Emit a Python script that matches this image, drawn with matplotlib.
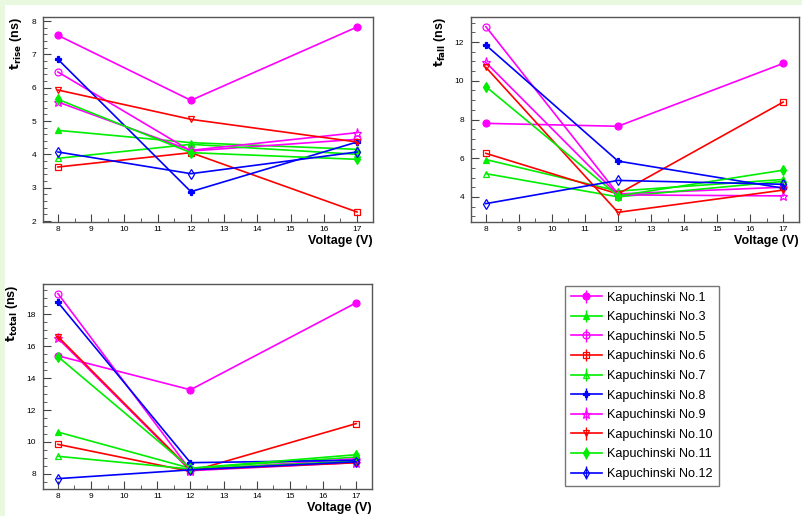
import matplotlib
matplotlib.use('Agg')
import matplotlib.pyplot as plt
from matplotlib.patches import Rectangle
from matplotlib.ticker import MultipleLocator

plt.rcParams['font.family'] = ['Liberation Sans', 'DejaVu Sans']

voltage = [8, 12, 17]

names = ['Kapuchinski No.1', 'Kapuchinski No.3', 'Kapuchinski No.5', 'Kapuchinski No.6',
         'Kapuchinski No.7', 'Kapuchinski No.8', 'Kapuchinski No.9', 'Kapuchinski No.10',
         'Kapuchinski No.11', 'Kapuchinski No.12']

t_rise = [
    [7.57, 5.62, 7.82],
    [4.72, 4.35, 4.15],
    [6.47, 4.10, 4.45],
    [3.62, 4.05, 2.27],
    [3.88, 4.30, 4.00],
    [6.85, 2.88, 4.37],
    [5.57, 4.12, 4.65],
    [5.93, 5.05, 4.37],
    [5.65, 4.05, 3.85],
    [4.07, 3.42, 4.07],
]

t_fall = [
    [7.80, 7.65, 10.90],
    [5.93, 4.30, 4.90],
    [12.80, 4.15, 4.50],
    [6.25, 4.15, 8.90],
    [5.20, 4.00, 4.80],
    [11.85, 5.85, 4.45],
    [10.95, 4.10, 4.05],
    [10.70, 3.20, 4.35],
    [9.70, 4.05, 5.38],
    [3.65, 4.85, 4.65],
]

t_total = [
    [15.40, 13.27, 18.72],
    [10.62, 8.35, 9.05],
    [19.30, 8.22, 8.95],
    [9.85, 8.15, 11.15],
    [9.10, 8.30, 8.80],
    [18.75, 8.70, 8.85],
    [16.50, 8.20, 8.70],
    [16.60, 8.25, 8.70],
    [15.35, 8.35, 9.20],
    [7.70, 8.25, 8.75],
]

# colour, marker, filled
styles = [
    ('#ff00ff', 'o', True),
    ('#00ee00', '^', True),
    ('#ff00ff', 'o', False),
    ('#ff0000', 's', False),
    ('#00ee00', '^', False),
    ('#0000ff', 'P', True),
    ('#ff00ff', '*', False),
    ('#ff0000', 'v', False),
    ('#00ee00', 'd', True),
    ('#0000ff', 'd', False),
]

W, H = 802, 516
fig = plt.figure(figsize=(W / 100, H / 100), dpi=100)
fig.patch.set_facecolor('#e9f9df')
fig.add_artist(Rectangle((5 / W, 0), 1, 1 - 5 / H, transform=fig.transFigure,
                         facecolor='white', edgecolor='none', zorder=-10))


def add_ax(x0, y0, x1, y1):
    return fig.add_axes([x0 / W, 1 - y1 / H, (x1 - x0) / W, (y1 - y0) / H])


def draw(ax, data, ylim, ymaj, ymin, label):
    handles = []
    for vals, name, (c, m, filled) in zip(data, names, styles):
        h = ax.errorbar(voltage, vals, yerr=[0, 0, 0], color=c, marker=m, lw=1.2,
                        ms=5 if m != '*' else 6.5, mfc=c if filled else 'none', mec=c,
                        mew=0.9, elinewidth=1.0, capsize=0, label=name)
        handles.append(h)
    ax.set_xlim(7.55, 17.48)
    ax.set_ylim(*ylim)
    ax.xaxis.set_major_locator(MultipleLocator(1))
    ax.xaxis.set_minor_locator(MultipleLocator(0.5))
    ax.yaxis.set_major_locator(MultipleLocator(ymaj))
    ax.yaxis.set_minor_locator(MultipleLocator(ymin))
    ax.tick_params(which='both', direction='in', top=False, right=False,
                   labelsize=6, color='#444444')
    ax.tick_params(axis='y', pad=5)
    ax.tick_params(axis='x', pad=3)
    ax.tick_params(which='major', length=6)
    ax.tick_params(which='minor', length=3)
    for s in ax.spines.values():
        s.set_color('#555555')
        s.set_linewidth(1.0)
    ax.set_xlabel('Voltage (V)', loc='right', fontsize=9, fontweight='bold', labelpad=1.5)
    ax.set_ylabel(label, loc='top', fontsize=9, fontweight='bold', labelpad=5)
    return handles


ax1 = add_ax(43, 17, 373, 222)
draw(ax1, t_rise, (1.97, 8.12), 1, 0.2, r'$\mathbf{t_{rise}}$ (ns)')

ax2 = add_ax(471, 17, 799, 222)
draw(ax2, t_fall, (2.7, 13.3), 2, 0.5, r'$\mathbf{t_{fall}}$ (ns)')

ax3 = add_ax(43, 284, 372, 489)
handles = draw(ax3, t_total, (7.05, 19.9), 2, 0.5, r'$\mathbf{t_{total}}$ (ns)')

leg = fig.legend(handles, names, loc='upper left', bbox_to_anchor=(565 / W, 1 - 286 / H),
                 fontsize=9.1, frameon=True, fancybox=False, edgecolor='#555555',
                 labelspacing=0.6, handlelength=2.5, handletextpad=0.4,
                 borderpad=0.45, borderaxespad=0)
leg.get_frame().set_linewidth(1.0)

fig.savefig('out.png', dpi=100, facecolor=fig.get_facecolor())
